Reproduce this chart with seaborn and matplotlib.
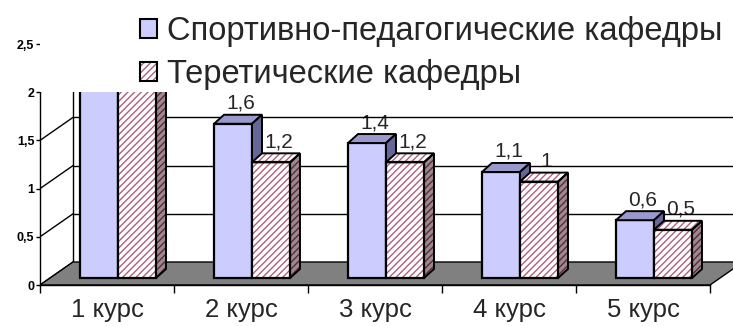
import numpy as np
import pandas as pd
import seaborn as sns
import matplotlib
matplotlib.use("Agg")
import matplotlib.pyplot as plt
from matplotlib.patches import Polygon, Rectangle, Patch
from matplotlib.legend_handler import HandlerTuple

# ---------------- data ----------------
categories = ["1 курс", "2 курс", "3 курс", "4 курс", "5 курс"]
series_names = ["Спортивно-педагогические кафедры", "Теретические кафедры"]
sport_values = [2.3, 1.6, 1.4, 1.1, 0.6]
theory_values = [2.3, 1.2, 1.2, 1.0, 0.5]
y_ticks = [0, 0.5, 1, 1.5, 2, 2.5]
y_tick_labels = ["0", "0,5", "1", "1,5", "2", "2,5"]

df = pd.DataFrame({
    "category": categories * 2,
    "series": [series_names[0]] * len(categories) + [series_names[1]] * len(categories),
    "value": sport_values + theory_values,
})

# ---------------- style ----------------
sns.set_style("white")
plt.rcParams["font.family"] = ["Liberation Sans", "DejaVu Sans"]

BLUE = "#CCCCFF"
BLUE_TOP = "#9999CC"
BLUE_SIDE = "#666699"
PINK_HATCH = "#B0607E"
PINK_SIDE_FACE = "#9C8890"
PINK_SIDE_HATCH = "#5A2A3A"
HATCH = "/////"

W, H = 733, 326
fig = plt.figure(figsize=(W / 100, H / 100), dpi=100)
ax = fig.add_axes([40 / W, 41 / H, 693 / W, 241 / H])
ax.set_facecolor("white")

sns.barplot(data=df, x="category", y="value", hue="series",
            order=categories, hue_order=series_names,
            palette=[BLUE, "#FFFFFF"], saturation=1, width=0.567,
            errorbar=None, legend=False, ax=ax)

XMAX = -0.5 + 693 / 134
ax.set_xlim(-0.5, XMAX)
ax.set_ylim(0, 2.5)

px_x = 134.0   # pixels per category
px_y = 96.4    # pixels per value unit
dxf, dyf = 33 / px_x, 23 / px_y       # floor depth
dxb, dyb = 10 / px_x, 9 / px_y        # bar depth
shift_x, base_y = 11 / px_x, 7 / px_y  # bar front placement

# floor
n = len(categories)
floor = Polygon([(-0.5, 0), (n - 0.5, 0), (n - 0.5 + dxf, dyf), (-0.5 + dxf, dyf)],
                closed=True, facecolor="#808080", edgecolor="black", lw=1, zorder=1.5)
ax.add_patch(floor)

# walls / gridlines
for t in y_ticks[:-1]:
    ax.plot([-0.5, -0.5 + dxf], [t, t + dyf], color="black", lw=1, zorder=1.2)
    if t > 0:
        ax.plot([-0.5 + dxf, XMAX + 1], [t + dyf, t + dyf], color="black", lw=1, zorder=1.2)
ax.plot([-0.5 + dxf, -0.5 + dxf], [dyf, 2.5], color="black", lw=1, zorder=1.2)

def fmt(v):
    return f"{v:g}".replace(".", ",")

for ci, cont in enumerate(ax.containers):
    z = 3 + ci
    for patch, val in zip(cont.patches, cont.datavalues):
        x = patch.get_x() + shift_x
        w = patch.get_width()
        h = patch.get_height()
        patch.set_x(x)
        patch.set_y(base_y)
        patch.set_zorder(z)
        top = base_y + h
        if ci == 0:
            patch.set_edgecolor("black")
            patch.set_linewidth(1.6)
        else:
            patch.set_facecolor("white")
            patch.set_edgecolor(PINK_HATCH)
            patch.set_hatch(HATCH)
            patch.set_linewidth(0)
            ax.add_patch(Rectangle((x, base_y), w, h, fill=False, edgecolor="black",
                                   lw=1.6, zorder=z + 0.1))
        topq = [(x, top), (x + w, top), (x + w + dxb, top + dyb), (x + dxb, top + dyb)]
        sideq = [(x + w, base_y), (x + w + dxb, base_y + dyb), (x + w + dxb, top + dyb), (x + w, top)]
        if ci == 0:
            ax.add_patch(Polygon(topq, closed=True, facecolor=BLUE_TOP, edgecolor="black", lw=1.4, zorder=z))
            ax.add_patch(Polygon(sideq, closed=True, facecolor=BLUE_SIDE, edgecolor="black", lw=1.4, zorder=z))
        else:
            ax.add_patch(Polygon(topq, closed=True, facecolor="white", edgecolor=PINK_HATCH, hatch=HATCH, lw=0, zorder=z))
            ax.add_patch(Polygon(sideq, closed=True, facecolor=PINK_SIDE_FACE, edgecolor=PINK_SIDE_HATCH, hatch=HATCH, lw=0, zorder=z))
            ax.add_patch(Polygon(topq, closed=True, fill=False, edgecolor="black", lw=1.4, zorder=z + 0.1))
            ax.add_patch(Polygon(sideq, closed=True, fill=False, edgecolor="black", lw=1.4, zorder=z + 0.1))
        ax.text(x + w / 2 + 0.75 * dxb, top + dyb + 2 / px_y, fmt(val),
                ha="center", va="bottom", fontsize=15, zorder=1.0)

# white cover above the 2.0 level (extends above the axes to hide clipped labels)
ax.add_patch(Rectangle((0, 0.8), 1, 0.4, transform=ax.transAxes, facecolor="white",
                       edgecolor="none", zorder=10, clip_on=False))

# axes
for s in ["top", "right"]:
    ax.spines[s].set_visible(False)
ax.spines["left"].set_bounds(0, 2)
ax.spines["bottom"].set_bounds(-0.5, n - 0.5)
for s in ["left", "bottom"]:
    ax.spines[s].set_color("black")
    ax.spines[s].set_linewidth(1)
    ax.spines[s].set_zorder(2)

ax.set_yticks(y_ticks)
ax.set_yticklabels(y_tick_labels, fontsize=9, fontweight="bold")
ax.tick_params(axis="y", direction="out", length=3, width=1, pad=1, colors="black", left=True)
ax.set_xticks(range(n))
ax.set_xticklabels(categories, fontsize=18.5)
ax.set_xticks(np.arange(-0.5, n, 1.0), minor=True)
ax.tick_params(axis="x", which="major", length=0, pad=9)
ax.tick_params(axis="x", which="minor", length=6, width=1, direction="out", color="black", bottom=True)
ax.set_xlabel("")
ax.set_ylabel("")

# legend
handles = [
    Patch(facecolor=BLUE, edgecolor="black", lw=1.5),
    (Patch(facecolor="white", edgecolor=PINK_HATCH, hatch=HATCH, lw=0),
     Patch(fill=False, edgecolor="black", lw=1.5)),
]
fig.legend(handles, series_names, handler_map={tuple: HandlerTuple(ndivide=1)},
           loc="upper left", bbox_to_anchor=(140 / W, 1 - 16 / H), frameon=False,
           fontsize=23.5, handlelength=0.52, handleheight=0.52, handletextpad=0.3,
           labelspacing=0.36, borderpad=0, borderaxespad=0)

fig.savefig("out.png", dpi=100, facecolor="white")
